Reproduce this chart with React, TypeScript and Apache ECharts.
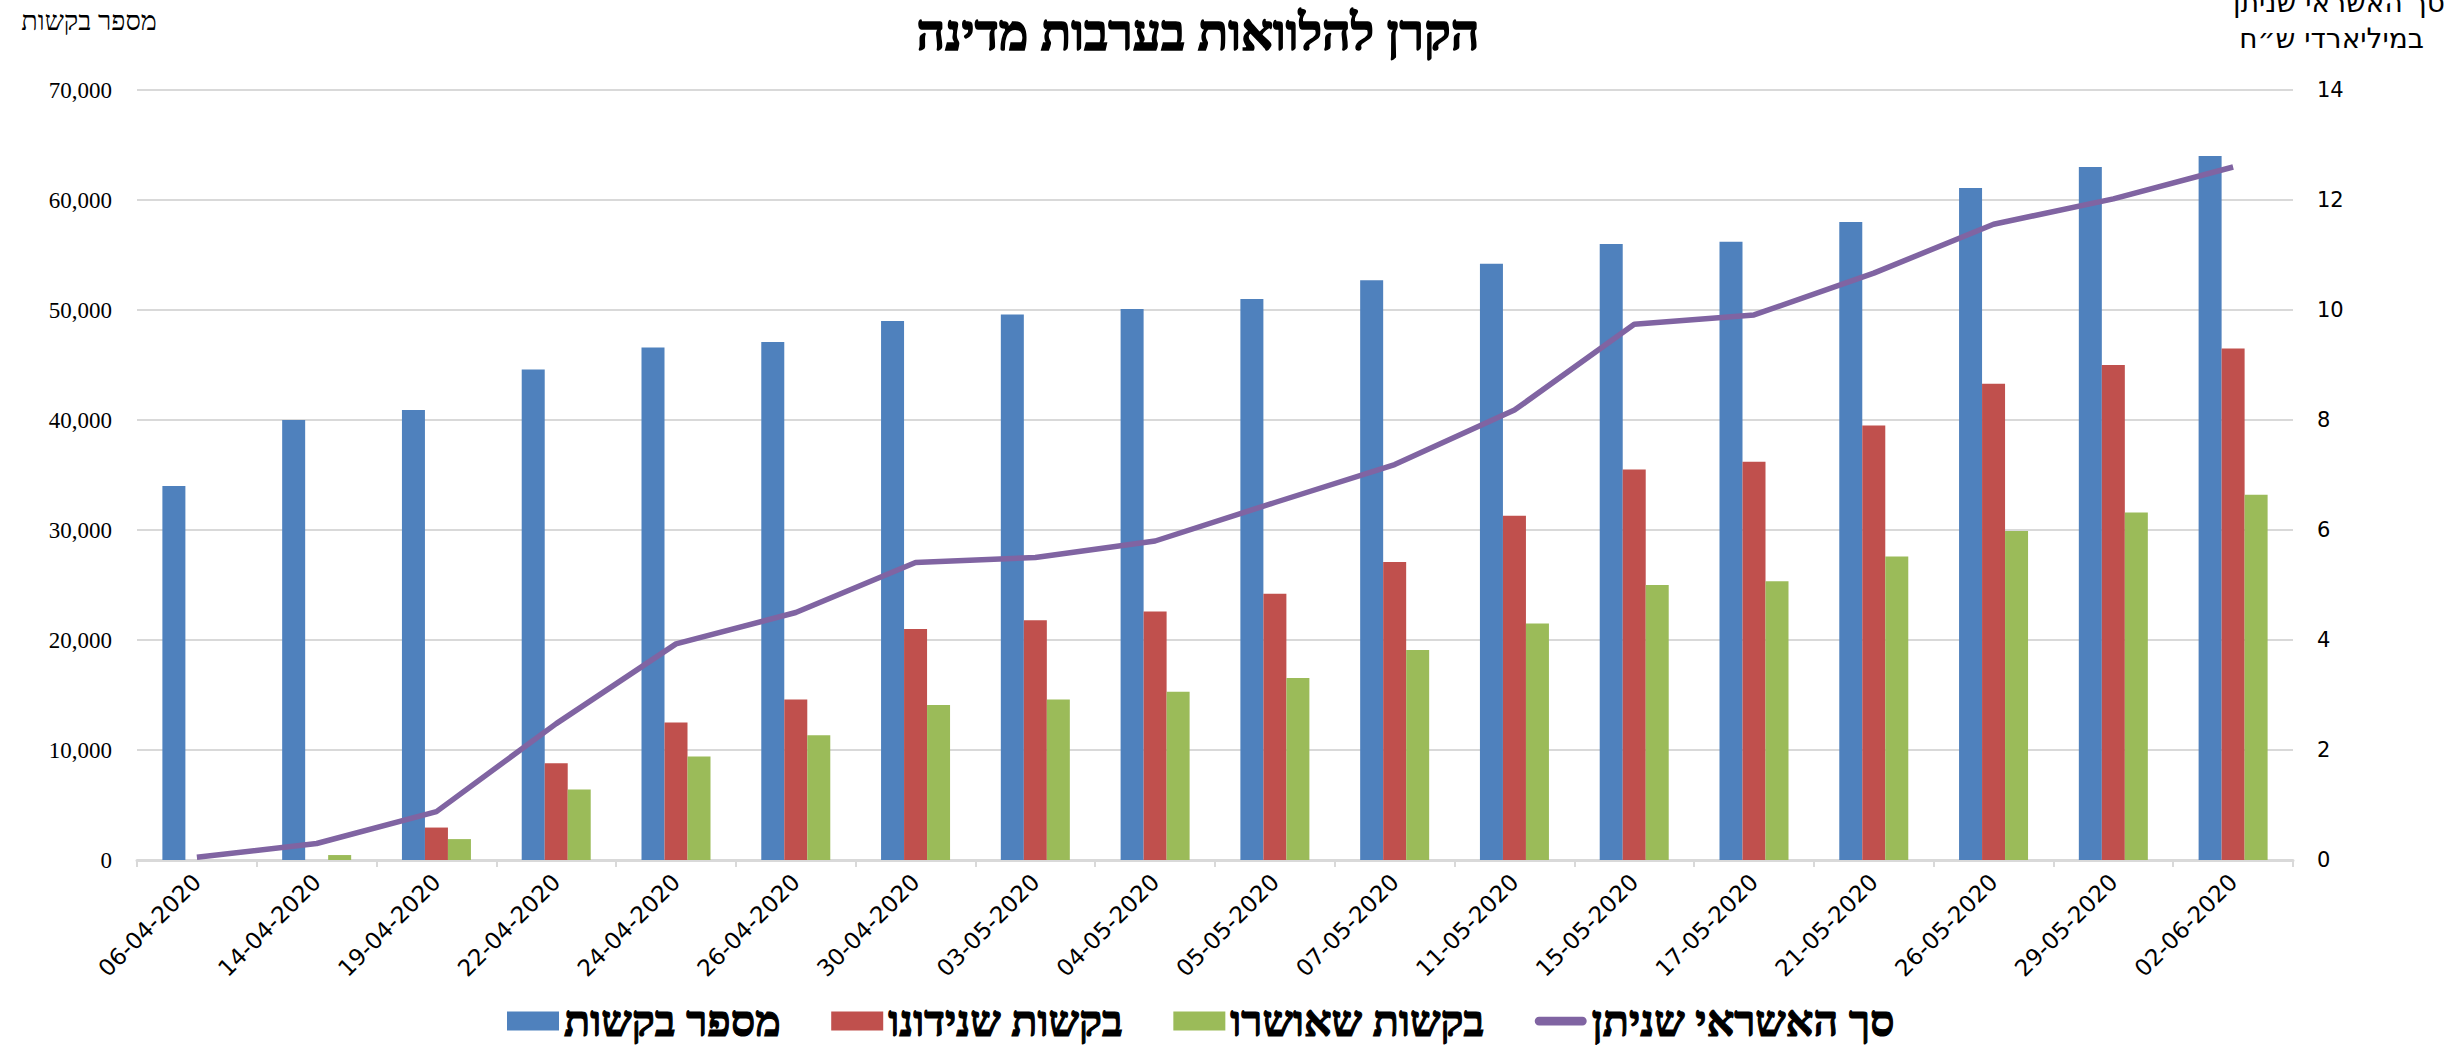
import React, { useEffect, useRef } from "react";
import * as echarts from "echarts";

const categories = [
  "06-04-2020", "14-04-2020", "19-04-2020", "22-04-2020", "24-04-2020", "26-04-2020",
  "30-04-2020", "03-05-2020", "04-05-2020", "05-05-2020", "07-05-2020", "11-05-2020",
  "15-05-2020", "17-05-2020", "21-05-2020", "26-05-2020", "29-05-2020", "02-06-2020",
];

const requests = [34000, 40000, 40900, 44600, 46600, 47100, 49000, 49600, 50100, 51000, 52700, 54200, 56000, 56200, 58000, 61100, 63000, 64000];
const discussed = [0, 0, 2950, 8800, 12500, 14600, 21000, 21800, 22600, 24200, 27100, 31300, 35500, 36200, 39500, 43300, 45000, 46500];
const approved = [0, 450, 1900, 6400, 9400, 11350, 14100, 14600, 15300, 16550, 19100, 21500, 25000, 25350, 27600, 29900, 31600, 33200];
const credit = [0.05, 0.3, 0.88, 2.48, 3.93, 4.5, 5.41, 5.5, 5.8, 6.5, 7.19, 8.18, 9.74, 9.91, 10.67, 11.56, 12.02, 12.6];

const leftTicks = { min: 0, max: 70000, interval: 10000 };
const rightTicks = { min: 0, max: 14, interval: 2 };

const seriesNames = ["מספר בקשות", "בקשות שנידונו", "בקשות שאושרו", "סך האשראי שניתן"];
const colors = ["#4F81BD", "#C0504D", "#9BBB59", "#8064A2"];

const titleText = "הקרן להלוואות בערבות מדינה";
const leftAxisTitle = "מספר בקשות";
const rightAxisTitle1 = "סך האשראי שניתן";
const rightAxisTitle2 = "במיליארדי ש״ח";

export default function App() {
  const ref = useRef<HTMLDivElement>(null);

  useEffect(() => {
    if (!ref.current) return;
    const chart = echarts.init(ref.current, null, { renderer: "svg" });
    const gridColor = "#D9D9D9";
    const heavyFont = "'Liberation Serif', 'DejaVu Serif', serif";

    const barSeries = [requests, discussed, approved].map((d, i) => ({
      name: seriesNames[i],
      type: "bar",
      data: d,
      barWidth: 23,
      barGap: "0%",
      itemStyle: { color: colors[i] },
      yAxisIndex: 0,
    }));

    chart.setOption({
      animation: false,
      backgroundColor: "#ffffff",
      title: {
        text: titleText,
        left: 1193,
        textAlign: "center",
        top: 3,
        textStyle: {
          fontFamily: heavyFont,
          fontWeight: "bold",
          fontSize: 50,
          color: "#000",
          textBorderColor: "#000",
          textBorderWidth: 1.5,
        },
      },
      legend: {
        top: 994,
        left: 502,
        itemGap: 50,
        itemWidth: 52,
        itemHeight: 19,
        textStyle: {
          fontFamily: heavyFont,
          fontWeight: "bold",
          fontSize: 43,
          color: "#000",
          textBorderColor: "#000",
          textBorderWidth: 1.2,
        },
        data: [
          { name: seriesNames[0], icon: "rect" },
          { name: seriesNames[1], icon: "rect" },
          { name: seriesNames[2], icon: "rect" },
          { name: seriesNames[3], icon: "path://M5,0 H55 A5,5 0 0 1 55,10 H5 A5,5 0 0 1 5,0 Z" },
        ],
      },
      grid: { left: 137, right: 152, top: 90, bottom: 186, containLabel: false },
      xAxis: {
        type: "category",
        data: categories,
        boundaryGap: true,
        axisLine: { lineStyle: { color: gridColor, width: 3 } },
        axisTick: { show: true, length: 7, lineStyle: { color: gridColor, width: 2 } },
        axisLabel: {
          rotate: 45,
          interval: 0,
          margin: 18,
          fontFamily: "'DejaVu Sans', sans-serif",
          fontSize: 23,
          color: "#000",
        },
      },
      yAxis: [
        {
          type: "value",
          ...leftTicks,
          axisLine: { show: false },
          axisTick: { show: false },
          splitLine: { lineStyle: { color: gridColor, width: 2 } },
          axisLabel: {
            margin: 25,
            fontFamily: "'Liberation Serif', serif",
            fontSize: 23,
            color: "#000",
            formatter: (v: number) => v.toLocaleString("en-US"),
          },
        },
        {
          type: "value",
          ...rightTicks,
          axisLine: { show: false },
          axisTick: { show: false },
          splitLine: { show: false },
          axisLabel: {
            margin: 24,
            fontFamily: "'DejaVu Sans', sans-serif",
            fontSize: 21,
            color: "#000",
          },
        },
      ],
      series: [
        ...barSeries,
        {
          name: seriesNames[3],
          type: "line",
          yAxisIndex: 1,
          data: credit,
          symbol: "none",
          lineStyle: { color: colors[3], width: 5.5 },
          itemStyle: { color: colors[3] },
          z: 5,
        },
      ],
      graphic: [
        {
          type: "text",
          x: 89,
          y: 21,
          style: {
            text: leftAxisTitle,
            fontFamily: "'Liberation Serif', serif",
            fontSize: 27,
            fill: "#000",
            align: "center",
            verticalAlign: "middle",
          },
        },
        {
          type: "text",
          x: 2233,
          y: 2,
          style: {
            text: rightAxisTitle1,
            fontFamily: "'DejaVu Sans', sans-serif",
            fontSize: 28,
            fill: "#000",
            align: "left",
            verticalAlign: "middle",
          },
        },
        {
          type: "text",
          x: 2424,
          y: 38,
          style: {
            text: rightAxisTitle2,
            fontFamily: "'DejaVu Sans', sans-serif",
            fontSize: 28,
            fill: "#000",
            align: "right",
            verticalAlign: "middle",
          },
        },
      ],
    });

    return () => chart.dispose();
  }, []);

  return (
    <div
      ref={ref}
      style={{ position: "fixed", left: 0, top: 0, width: 2445, height: 1046, background: "#fff" }}
    />
  );
}
